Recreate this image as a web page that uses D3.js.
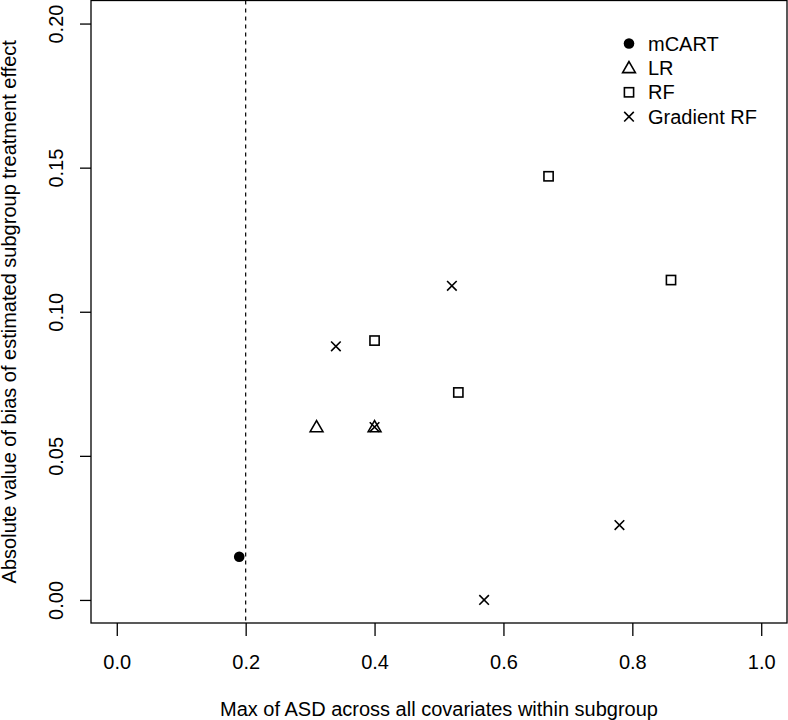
<!DOCTYPE html>
<html><head><meta charset="utf-8">
<script src="https://cdn.jsdelivr.net/npm/d3@7"></script>
<style>body{margin:0;background:#fff}svg{display:block}text{font-family:"Liberation Sans",Arial,Helvetica,sans-serif;fill:#000}</style>
</head><body><svg id="c" width="788" height="720"></svg>
<script>
const methods = ["mCART", "LR", "RF", "Gradient RF"];
const mcartX = [0.19];
const mcartY = [0.015];
const lrX = [0.31, 0.40];
const lrY = [0.06, 0.06];
const rfX = [0.40, 0.53, 0.67, 0.86];
const rfY = [0.09, 0.072, 0.147, 0.111];
const grfX = [0.34, 0.52, 0.78, 0.57, 0.40];
const grfY = [0.088, 0.109, 0.026, 0.0, 0.06];
const xTicks = [0, 0.2, 0.4, 0.6, 0.8, 1.0];
const yTicks = [0, 0.05, 0.10, 0.15, 0.20];
const cutoff = 0.2;
const xTitle = "Max of ASD across all covariates within subgroup";
const yTitle = "Absolute value of bias of estimated subgroup treatment effect";

const svg = d3.select("#c");
const L = 91, R = 787, T = 0.5, B = 623;
const x = d3.scaleLinear().domain([-0.04, 1.04]).range([L, R]);
const y = d3.scaleLinear().domain([-0.008, 0.208]).range([B, T]);
const fs = 20;

// axes
const xAxis = d3.axisBottom(x).tickValues(xTicks).tickFormat(d3.format(".1f")).tickSize(13).tickPadding(0);
const gx = svg.append("g").attr("transform", `translate(0,${B})`).call(xAxis);
gx.select(".domain").remove();
gx.selectAll(".tick line").attr("stroke", "#000").attr("stroke-width", 1.3);
gx.selectAll(".tick text").attr("font-size", fs).attr("y", 0).attr("dy", 0)
  .attr("transform", "translate(0,46)").attr("font-family", "Liberation Sans, Arial, sans-serif").attr("fill", "#000");

const yAxis = d3.axisLeft(y).tickValues(yTicks).tickFormat(d3.format(".2f")).tickSize(11);
const gy = svg.append("g").attr("transform", `translate(${L},0)`).call(yAxis);
gy.select(".domain").remove();
gy.selectAll(".tick line").attr("stroke", "#000").attr("stroke-width", 1.3);
gy.selectAll(".tick text").attr("font-size", fs).attr("x", 0).attr("dy", 0)
  .attr("text-anchor", "middle").attr("transform", "translate(-28,0) rotate(-90)")
  .attr("font-family", "Liberation Sans, Arial, sans-serif").attr("fill", "#000");

// box
svg.append("rect").attr("x", L).attr("y", T).attr("width", R - L).attr("height", B - T)
  .attr("fill", "none").attr("stroke", "#000").attr("stroke-width", 1.3);

// cutoff line
svg.append("line").attr("x1", x(cutoff)).attr("x2", x(cutoff)).attr("y1", T).attr("y2", B)
  .attr("stroke", "#000").attr("stroke-width", 1.2).attr("stroke-dasharray", "4,4");

// titles
svg.append("text").attr("x", (L + R) / 2).attr("y", 716).attr("text-anchor", "middle").attr("font-size", fs).text(xTitle);
svg.append("text").attr("transform", `translate(16,${(T + B) / 2}) rotate(-90)`).attr("text-anchor", "middle").attr("font-size", fs).text(yTitle);

// symbols
function sym(g, type, cx, cy) {
  if (type === 0) {
    g.append("circle").attr("cx", cx).attr("cy", cy).attr("r", 5.3).attr("fill", "#000");
  } else if (type === 1) {
    const s = 6.4, h = s * Math.sqrt(3);
    const pts = [[cx, cy - h * 2 / 3 + 1], [cx - s, cy + h / 3 + 1], [cx + s, cy + h / 3 + 1]];
    g.append("polygon").attr("points", pts.map(p => p.join(",")).join(" "))
      .attr("fill", "none").attr("stroke", "#000").attr("stroke-width", 1.6);
  } else if (type === 2) {
    g.append("rect").attr("x", cx - 4.6).attr("y", cy - 4.6).attr("width", 9.2).attr("height", 9.2)
      .attr("fill", "none").attr("stroke", "#000").attr("stroke-width", 1.6);
  } else {
    const s = 4.8;
    g.append("path").attr("d", `M${cx - s},${cy - s}L${cx + s},${cy + s}M${cx - s},${cy + s}L${cx + s},${cy - s}`)
      .attr("stroke", "#000").attr("stroke-width", 1.6).attr("fill", "none");
  }
}
const pg = svg.append("g");
const series = [[mcartX, mcartY], [lrX, lrY], [rfX, rfY], [grfX, grfY]];
series.forEach(([xs, ys], k) => xs.forEach((v, i) => sym(pg, k, x(v), y(ys[i]))));

// legend
const lg = svg.append("g");
methods.forEach((m, i) => {
  const cy = 43.5 + i * 24.4;
  sym(lg, i, 629, cy);
  lg.append("text").attr("x", 648).attr("y", cy + 7).attr("font-size", fs).text(m);
});
</script></body></html>
